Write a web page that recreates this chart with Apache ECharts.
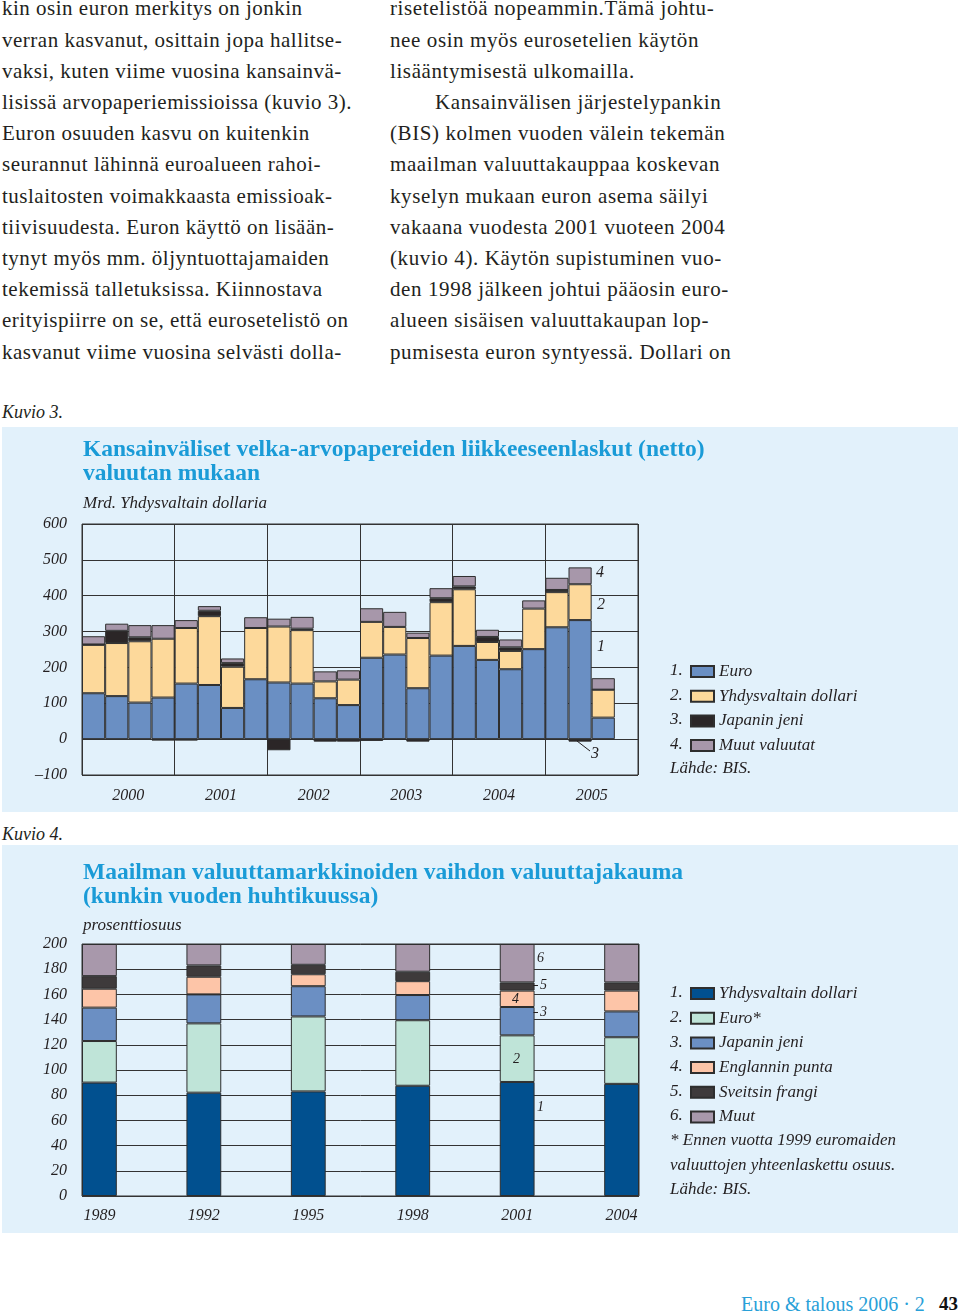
<!DOCTYPE html>
<html>
<head>
<meta charset="utf-8">
<script src="https://cdn.jsdelivr.net/npm/echarts@6/dist/echarts.min.js"></script>
<style>
  html, body { margin:0; padding:0; background:#fff; }
  body { width:960px; height:1315px; position:relative; overflow:hidden; }
  .col { position:absolute; top:-6.6px; font-family:"Liberation Serif", serif; font-size:21px; letter-spacing:0.5px; line-height:31.2px; color:#231f20; white-space:pre; }
  .kuvio { position:absolute; left:2px; font-family:"Liberation Serif", serif; font-style:italic; font-size:18px; color:#231f20; line-height:20px; }
  .foot { position:absolute; top:1292px; font-family:"Liberation Serif", serif; line-height:24px; }
  #c1, #c2 { position:absolute; left:2px; width:956px; }
</style>
</head>
<body>
<div class="col" style="left:2px">kin osin euron merkitys on jonkin
verran kasvanut, osittain jopa hallitse-
vaksi, kuten viime vuosina kansainvä-
lisissä arvopaperiemissioissa (kuvio 3).
Euron osuuden kasvu on kuitenkin
seurannut lähinnä euroalueen rahoi-
tuslaitosten voimakkaasta emissioak-
tiivisuudesta. Euron käyttö on lisään-
tynyt myös mm. öljyntuottajamaiden
tekemissä talletuksissa. Kiinnostava
erityispiirre on se, että eurosetelistö on
kasvanut viime vuosina selvästi dolla-</div>
<div class="col" style="left:390px;letter-spacing:0.6px">risetelistöä nopeammin.Tämä johtu-
nee osin myös eurosetelien käytön
lisääntymisestä ulkomailla.
<span style="padding-left:45px"></span>Kansainvälisen järjestelypankin
(BIS) kolmen vuoden välein tekemän
maailman valuuttakauppaa koskevan
kyselyn mukaan euron asema säilyi
vakaana vuodesta 2001 vuoteen 2004
(kuvio 4). Käytön supistuminen vuo-
den 1998 jälkeen johtui pääosin euro-
alueen sisäisen valuuttakaupan lop-
pumisesta euron syntyessä. Dollari on</div>
<div class="kuvio" style="top:402px">Kuvio 3.</div>
<div class="kuvio" style="top:824px">Kuvio 4.</div>
<div id="c1" style="top:427px;height:385px"></div>
<div id="c2" style="top:845px;height:388px"></div>
<div class="foot" style="left:741px;color:#29a0d8;font-size:20px">Euro &amp; talous 2006 · 2</div>
<div class="foot" style="left:939px;color:#111;font-size:19px;font-weight:bold">43</div>
<script>
// ---------- Kuvio 3 data (Mrd. USD, quarterly 2000Q1–2005Q3) ----------
const quarters = [];
['2000','2001','2002','2003','2004','2005'].forEach(function(y){ ['I','II','III','IV'].forEach(function(q){ quarters.push(q + '/' + y); }); });
const yearLabels1 = ['2000','2001','2002','2003','2004','2005'];
const euro1  = [128,120,102,116,155,151, 87,167,158,155,114, 95,227,236,142,233,260,221,195,251,312,332, 60,null];
const usd1   = [135,148,171,164,155,192,115,143,156,149, 47, 71,100, 77,140,149,158, 50, 51,113, 98,100, 78,null];
const yen1   = [  1, 34, 11, -4, -4, 15, 10,  0,-31,  4, -7, -7, -5, -2, -7, 11,  8, 14, 10, -2,  6, -7,  0,null];
const other1 = [ 23, 20, 34, 38, 22, 13, 13, 30, 22, 33, 28, 26, 38, 42, 15, 28, 29, 20, 22, 23, 34, 47, 32,null];
const names1 = ['Euro','Yhdysvaltain dollari','Japanin jeni','Muut valuutat'];

// ---------- Kuvio 4 data (% share, sums to 200) ----------
const years2 = ['1989','1990','1991','1992','1993','1994','1995','1996','1997','1998','1999','2000','2001','2002','2003','2004'];
const surveyYears = ['1989','1992','1995','1998','2001','2004'];
const usd2   = [90, 82, 83, 87.5, 90.5, 89];
const euro2  = [33, 55, 59.5, 52, 37, 37];
const yen2   = [26.5, 23, 24, 20, 22.5, 20.5];
const gbp2   = [15, 14, 9.5, 11, 13, 16.5];
const chf2   = [10, 9, 7.5, 7.5, 6.5, 6.5];
const other2 = [25.5, 17, 16.5, 22, 30.5, 30.5];
const names2 = ['Yhdysvaltain dollari','Euro*','Japanin jeni','Englannin punta','Sveitsin frangi','Muut'];

const FONT = '"Liberation Serif", "Times New Roman", serif';
const TXT = '#231f20';
const LINE = '#333333';
const BG = '#e2f1fb';
const TITLE = '#1a9bd7';

function txt(x, y, s, size) {
  return {
    type: 'text', x: x, y: y, z: 100, zlevel: 0,
    style: { text: s, font: 'italic ' + (size || 17) + 'px ' + FONT, fill: TXT,
      textAlign: 'left', textVerticalAlign: 'middle', align: 'left', verticalAlign: 'middle' }
  };
}
function line(x1, y1, x2, y2) {
  return { type: 'line', z: 100, shape: { x1: x1, y1: y1, x2: x2, y2: y2 }, style: { stroke: TXT, lineWidth: 1 } };
}
function barSeries(name, data, color) {
  return {
    type: 'bar', name: name, stack: 'a', data: data,
    barCategoryGap: '0%', barGap: '0%',
    itemStyle: { color: color, borderColor: '#2e2e2e', borderWidth: 1 },
    emphasis: { disabled: true }, animation: false
  };
}
const axisLabelStyle = { fontFamily: FONT, fontStyle: 'italic', fontSize: 16, color: TXT };

// ---------- Chart 1 ----------
const ch1 = echarts.init(document.getElementById('c1'), null, { renderer: 'canvas' });
const leg1Top = 244, legStep1 = 24.5;
const g1 = [];
names1.forEach(function(n, i){ g1.push(txt(668, leg1Top + i * legStep1, (i + 1) + '.')); });
g1.push(txt(668, leg1Top + 4 * legStep1, 'Lähde: BIS.'));
g1.push(txt(594, 146, '4', 16));
g1.push(txt(595, 178, '2', 16));
g1.push(txt(595, 220, '1', 16));
g1.push(txt(589, 327, '3', 16));
g1.push(line(575, 314, 588, 324));
ch1.setOption({
  backgroundColor: BG,
  animation: false,
  title: [
    { text: 'Kansainväliset velka-arvopapereiden liikkeeseenlaskut (netto)\nvaluutan mukaan', left: 81, top: 11, padding: 0,
      textStyle: { fontFamily: FONT, fontWeight: 'bold', fontSize: 23.5, lineHeight: 24, color: TITLE } },
    { text: 'Mrd. Yhdysvaltain dollaria', left: 81, top: 68, padding: 0,
      textStyle: { fontFamily: FONT, fontStyle: 'italic', fontWeight: 'normal', fontSize: 17, lineHeight: 18, color: TXT } }
  ],
  legend: {
    data: names1, orient: 'vertical', left: 688, top: leg1Top - 8, padding: 0,
    itemWidth: 23, itemHeight: 11, itemGap: 7.7, selectedMode: false, icon: 'rect',
    textStyle: { fontFamily: FONT, fontStyle: 'italic', fontSize: 17, lineHeight: 16, color: TXT }
  },
  grid: { left: 80, top: 97, width: 556, height: 251, show: true, borderColor: LINE, borderWidth: 1, outerBoundsMode: 'none' },
  xAxis: [
    { type: 'category', data: quarters, boundaryGap: true,
      axisLine: { show: false }, axisTick: { show: false }, axisLabel: { show: false },
      splitLine: { show: true, interval: 3, lineStyle: { color: LINE, width: 1 } } },
    { type: 'category', data: yearLabels1, boundaryGap: true, position: 'bottom',
      axisLine: { show: false }, axisTick: { show: false }, splitLine: { show: false },
      axisLabel: Object.assign({ margin: 13 }, axisLabelStyle) }
  ],
  yAxis: {
    type: 'value', min: -100, max: 600, interval: 100,
    axisLine: { show: false }, axisTick: { show: false },
    splitLine: { show: true, lineStyle: { color: LINE, width: 1 } },
    axisLabel: Object.assign({ margin: 15, padding: [0, 0, 6, 0],
      formatter: function(v){ return v < 0 ? '–' + (-v) : String(v); } }, axisLabelStyle)
  },
  series: [
    barSeries(names1[0], euro1, '#6a8fc3'),
    barSeries(names1[1], usd1, '#fdd99b'),
    barSeries(names1[2], yen1, '#2b2627'),
    barSeries(names1[3], other1, '#a797aa')
  ],
  graphic: { elements: g1 }
});

// ---------- Chart 2 ----------
function expand(arr) {
  return years2.map(function(y){ const i = surveyYears.indexOf(y); return i < 0 ? null : arr[i]; });
}
const ch2 = echarts.init(document.getElementById('c2'), null, { renderer: 'canvas' });
const leg2Top = 148, legStep2 = 24.6;
const g2 = [];
names2.forEach(function(n, i){ g2.push(txt(668, leg2Top + i * legStep2, (i + 1) + '.')); });
g2.push(txt(668, leg2Top + 6 * legStep2, '* Ennen vuotta 1999 euromaiden'));
g2.push(txt(668, leg2Top + 7 * legStep2, 'valuuttojen yhteenlaskettu osuus.'));
g2.push(txt(668, leg2Top + 8 * legStep2, 'Lähde: BIS.'));
g2.push(txt(535, 113, '6', 14));
g2.push(txt(538, 140, '5', 14));
g2.push(line(531.5, 140.5, 536, 140.5));
g2.push(txt(510, 154, '4', 14));
g2.push(txt(538, 167, '3', 14));
g2.push(line(531.5, 167.5, 536, 167.5));
g2.push(txt(511, 214, '2', 14));
g2.push(txt(535, 262, '1', 14));
ch2.setOption({
  backgroundColor: BG,
  animation: false,
  title: [
    { text: 'Maailman valuuttamarkkinoiden vaihdon valuuttajakauma\n(kunkin vuoden huhtikuussa)', left: 81, top: 16, padding: 0,
      textStyle: { fontFamily: FONT, fontWeight: 'bold', fontSize: 23.5, lineHeight: 24, color: TITLE } },
    { text: 'prosenttiosuus', left: 81, top: 72, padding: 0,
      textStyle: { fontFamily: FONT, fontStyle: 'italic', fontWeight: 'normal', fontSize: 17, lineHeight: 18, color: TXT } }
  ],
  legend: {
    data: names2, orient: 'vertical', left: 688, top: leg2Top - 8, padding: 0,
    itemWidth: 23, itemHeight: 11, itemGap: 7.7, selectedMode: false, icon: 'rect',
    textStyle: { fontFamily: FONT, fontStyle: 'italic', fontSize: 17, lineHeight: 16, color: TXT }
  },
  grid: { left: 80, top: 99, width: 557, height: 252, show: true, borderColor: LINE, borderWidth: 1, outerBoundsMode: 'none' },
  xAxis: {
    type: 'category', data: years2, boundaryGap: true,
    axisLine: { show: false }, axisTick: { show: false }, splitLine: { show: false },
    axisLabel: Object.assign({ margin: 12, interval: 2 }, axisLabelStyle)
  },
  yAxis: {
    type: 'value', min: 0, max: 200, interval: 20,
    axisLine: { show: false }, axisTick: { show: false },
    splitLine: { show: true, lineStyle: { color: LINE, width: 1 } },
    axisLabel: Object.assign({ margin: 15, padding: [0, 0, 3, 0] }, axisLabelStyle)
  },
  series: [
    barSeries(names2[0], expand(usd2), '#01508f'),
    barSeries(names2[1], expand(euro2), '#bfe4d8'),
    barSeries(names2[2], expand(yen2), '#6b8fc3'),
    barSeries(names2[3], expand(gbp2), '#fdc5a8'),
    barSeries(names2[4], expand(chf2), '#3e3a3b'),
    barSeries(names2[5], expand(other2), '#a898ab')
  ],
  graphic: { elements: g2 }
});
</script>
</body>
</html>
